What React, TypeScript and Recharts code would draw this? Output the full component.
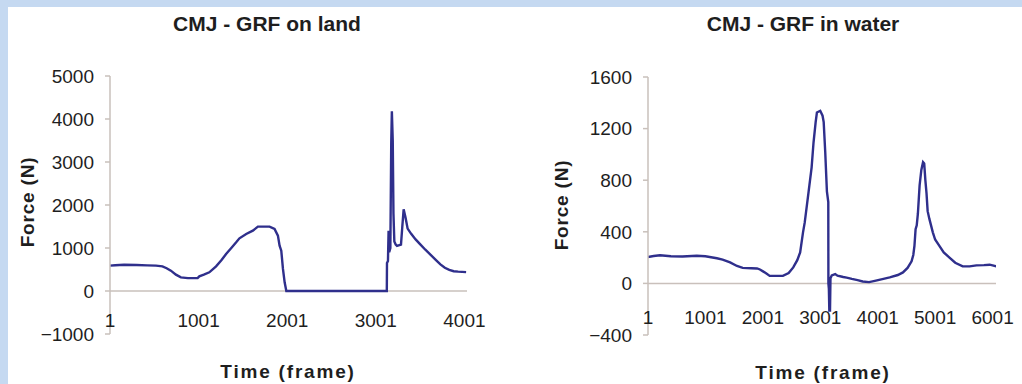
import React from 'react';
import { LineChart, Line, XAxis, YAxis, ReferenceLine } from 'recharts';

// ---------- data: CMJ ground reaction force on land ----------
const landFrames = [
  1, 60, 160, 300, 420, 520, 593, 640, 688, 745, 801, 880, 990, 1009, 1060, 1122, 1198, 1260,
  1311, 1370, 1425, 1462, 1538, 1613, 1670, 1802, 1858, 1896, 1915, 1934, 1953, 1972, 1991,
  3125, 3127, 3138, 3145, 3152, 3165, 3175, 3182, 3192, 3200, 3210, 3225, 3240, 3285, 3300,
  3315, 3335, 3360, 3400, 3450, 3500, 3560, 3620, 3680, 3730, 3780, 3830, 3880, 3930, 4020,
];
const landForce = [
  590, 600, 610, 605, 595, 590, 574, 530, 473, 380, 318, 300, 300, 341, 380, 434, 574, 720,
  860, 1000, 1132, 1225, 1326, 1403, 1496, 1496, 1442, 1287, 1054, 938, 512, 202, 0,
  0, 650, 700, 1400, 900, 1000, 3450, 4180, 3500, 1800, 1150, 1080, 1050, 1080, 1500,
  1900, 1720, 1450, 1330, 1200, 1090, 960, 840, 720, 620, 540, 490, 460, 450, 440,
];
const landXTicks = [1, 1001, 2001, 3001, 4001];
const landYTicks = [-1000, 0, 1000, 2000, 3000, 4000, 5000];

// ---------- data: CMJ ground reaction force in water ----------
const waterFrames = [
  1, 100, 210, 400, 600, 850, 1000, 1200, 1300, 1430, 1550, 1650, 1800, 1900, 1950, 2050,
  2120, 2350, 2450, 2530, 2600, 2650, 2700, 2730, 2798, 2850, 2883, 2920, 2942, 3000, 3040,
  3060, 3087, 3116, 3140, 3142, 3150, 3158, 3170, 3178, 3200, 3260, 3300, 3400, 3460, 3550,
  3650, 3740, 3850, 3950, 4100, 4210, 4350, 4440, 4520, 4590, 4620, 4640, 4660, 4680, 4700,
  4730, 4760, 4790, 4810, 4830, 4850, 4870, 4900, 4960, 5000, 5080, 5150, 5250, 5350, 5480,
  5600, 5720, 5850, 5950, 6070,
];
const waterForce = [
  205, 212, 218, 210, 208, 214, 210, 195, 185, 163, 135, 120, 118, 116, 108, 80,
  58, 58, 80, 124, 180, 240, 396, 473, 714, 900, 1092, 1250, 1325, 1338, 1300,
  1250, 1017, 714, 630, 0, -40, -210, -210, 40, 62, 72, 60, 50, 45, 35,
  25, 15, 10, 20, 35, 47, 65, 85, 120, 171, 220, 290, 420, 450, 540,
  760, 880, 940, 930, 800, 700, 560, 500, 396, 340, 287, 240, 200, 160, 132,
  132, 140, 142, 145, 132,
];
const waterXTicks = [1, 1001, 2001, 3001, 4001, 5001, 6001];
const waterYTicks = [-400, 0, 400, 800, 1200, 1600];

const landData = landFrames.map((f, i) => ({ frame: f, force: landForce[i] }));
const waterData = waterFrames.map((f, i) => ({ frame: f, force: waterForce[i] }));

const FONT = '"Liberation Sans", Arial, sans-serif';
const TEXT = '#1e1e1e';
const AXIS = '#c9c0bb';
const LINE = '#2f2f8c';

const fmt = (v: number) => (v < 0 ? '\u2212' + Math.abs(v) : String(v));

const makeXTick = (dy: number) => (props: any) => (
  <text
    x={props.x}
    y={props.y + dy}
    textAnchor="middle"
    dominantBaseline="central"
    fontSize={19}
    fontFamily={FONT}
    fill={TEXT}
  >
    {props.payload.value}
  </text>
);

type PanelProps = {
  left: number;
  data: { frame: number; force: number }[];
  xDomain: [number, number];
  yDomain: [number, number];
  xTicks: number[];
  yTicks: number[];
  margin: { top: number; right: number; bottom: number; left: number };
  tickDy: number;
};

const Panel = ({ left, data, xDomain, yDomain, xTicks, yTicks, margin, tickDy }: PanelProps) => (
  <div style={{ position: 'absolute', left, top: 0 }}>
    <LineChart width={511} height={384} data={data} margin={margin}>
      <XAxis
        dataKey="frame"
        type="number"
        domain={xDomain}
        ticks={xTicks}
        allowDataOverflow
        axisLine={false}
        tickLine={false}
        tickSize={0}
        tickMargin={0}
        height={30}
        interval={0}
        tick={makeXTick(tickDy)}
      />
      <YAxis
        type="number"
        domain={yDomain}
        ticks={yTicks}
        allowDataOverflow
        width={60}
        interval={0}
        tickFormatter={fmt}
        axisLine={{ stroke: AXIS, strokeWidth: 1.5 }}
        tickLine={{ stroke: AXIS, strokeWidth: 1.5 }}
        tickSize={5}
        tickMargin={11}
        tick={{ fontSize: 19, fontFamily: FONT, fill: TEXT }}
      />
      <ReferenceLine y={0} stroke={AXIS} strokeWidth={1.5} />
      <Line
        type="linear"
        dataKey="force"
        stroke={LINE}
        strokeWidth={2.4}
        dot={false}
        isAnimationActive={false}
      />
    </LineChart>
  </div>
);

const Title = ({ cx, cy, text, size }: { cx: number; cy: number; text: string; size: number }) => (
  <div
    style={{
      position: 'absolute',
      left: cx - 150,
      top: cy - size / 2,
      width: 300,
      height: size,
      lineHeight: `${size}px`,
      fontSize: size,
      fontWeight: 'bold',
      fontFamily: FONT,
      color: TEXT,
      textAlign: 'center',
      whiteSpace: 'nowrap',
    }}
  >
    {text}
  </div>
);

const AxisTitle = ({ cx, cy, text, rotate }: { cx: number; cy: number; text: string; rotate?: boolean }) => (
  <div
    style={{
      position: 'absolute',
      left: cx - 80,
      top: cy - 10,
      width: 160,
      height: 20,
      lineHeight: '20px',
      fontSize: 19,
      fontWeight: 'bold',
      fontFamily: FONT,
      color: TEXT,
      textAlign: 'center',
      whiteSpace: 'nowrap',
      letterSpacing: rotate ? 0.8 : 1.8,
      transform: rotate ? 'rotate(-90deg)' : undefined,
    }}
  >
    {text}
  </div>
);

export default function App() {
  return (
    <div
      style={{
        position: 'absolute',
        left: 0,
        top: 0,
        width: 1022,
        height: 384,
        background: '#c5d9f1',
        overflow: 'hidden',
      }}
    >
      <div style={{ position: 'absolute', left: 8, top: 7, width: 1014, height: 377, background: '#ffffff' }} />
      <Panel
        left={0}
        data={landData}
        xDomain={[1, 4030]}
        yDomain={[-1000, 5000]}
        xTicks={landXTicks}
        yTicks={landYTicks}
        margin={{ top: 76, right: 44, bottom: 20, left: 50 }}
        tickDy={-14}
      />
      <Panel
        left={511}
        data={waterData}
        xDomain={[1, 6060]}
        yDomain={[-400, 1600]}
        xTicks={waterXTicks}
        yTicks={waterYTicks}
        margin={{ top: 77, right: 26, bottom: 19, left: 77 }}
        tickDy={-18}
      />
      <Title cx={267} cy={23.5} text="CMJ - GRF on land" size={21} />
      <Title cx={803} cy={23.5} text="CMJ - GRF in water" size={21} />
      <AxisTitle cx={288} cy={372} text="Time (frame)" />
      <AxisTitle cx={823} cy={372.5} text="Time (frame)" />
      <AxisTitle cx={28} cy={202} text="Force (N)" rotate />
      <AxisTitle cx={562} cy={205} text="Force (N)" rotate />
    </div>
  );
}
